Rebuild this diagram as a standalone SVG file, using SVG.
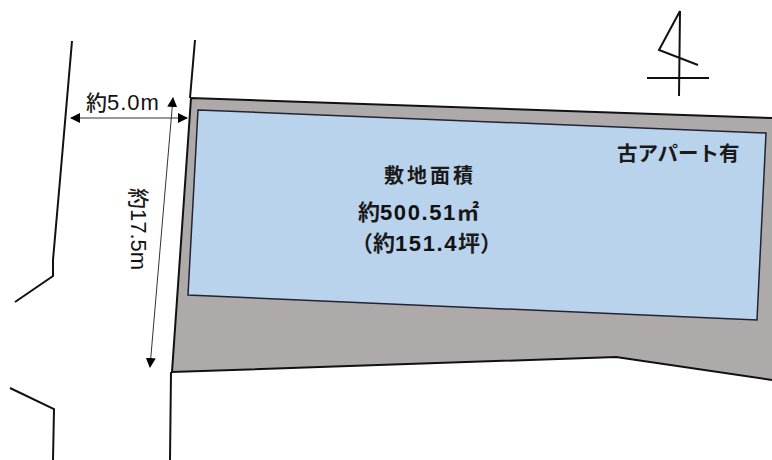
<svg xmlns="http://www.w3.org/2000/svg" width="772" height="460" viewBox="0 0 772 460">
<defs>
<marker id="tri" markerUnits="userSpaceOnUse" markerWidth="12" markerHeight="12" refX="9" refY="5" orient="auto-start-reverse"><path d="M0 0L10 5L0 10Z" fill="#000"/></marker>
</defs>
<style>
.l{fill:none;stroke:#111;stroke-width:2}
.t{font-family:"Liberation Sans","Noto Sans CJK JP",sans-serif;fill:#111}
.j{font-family:"Noto Sans CJK JP","Liberation Sans",sans-serif;font-weight:700;fill:#1a1a1a}
.r{font-weight:500}
</style>
<rect width="772" height="460" fill="#fff"/>
<g id="road">
<path class="l" d="M72 41L60 180L53 260V276L15 302"/>
<path class="l" d="M10 388L54 409L53 460"/>
<path class="l" d="M195 40L190 98"/>
<path class="l" d="M171 372L170 460"/>
</g>
<g id="site">
<path d="M191 98L772 118V380L616 357L172 372Z" fill="#aeaaaa" stroke="none"/>
<path d="M772 118L191 98L172 372L616 357L772 380" fill="none" stroke="#111" stroke-width="2"/>
</g>
<g id="lot">
<path d="M198 110L766 133L757 320L188 295Z" fill="#bad3ec" stroke="#223" stroke-width="1.5"/>
<text class="j" x="384" y="183" font-size="20" letter-spacing="3">敷地面積</text>
<text class="j" x="358" y="220" font-size="22">約<tspan class="t" font-size="22" letter-spacing="1.6">500.51</tspan>㎡</text>
<text class="j" x="351" y="251" font-size="22">（約<tspan class="t" font-size="22" letter-spacing="1.6">151.4</tspan>坪）</text>
<text class="j" x="617" y="161" font-size="20.5">古アパート有</text>
</g>
<g id="north">
<path class="l" d="M680 11L679 96M680 11L659 50L698 65M647 78H709"/>
</g>
<g id="connectors">
<line x1="71" y1="118" x2="187" y2="118" stroke="#333" stroke-width="1" marker-start="url(#tri)" marker-end="url(#tri)"/>
<line x1="173" y1="98" x2="150" y2="367" stroke="#333" stroke-width="1" marker-start="url(#tri)" marker-end="url(#tri)"/>
</g>
<g id="labels">
<text class="j r" x="86" y="110" font-size="21">約<tspan class="t" font-size="22" letter-spacing="1">5.0m</tspan></text>
<text class="j r" transform="translate(131 188) rotate(90)" font-size="21">約<tspan class="t" font-size="22">17.5m</tspan></text>
</g>
</svg>
